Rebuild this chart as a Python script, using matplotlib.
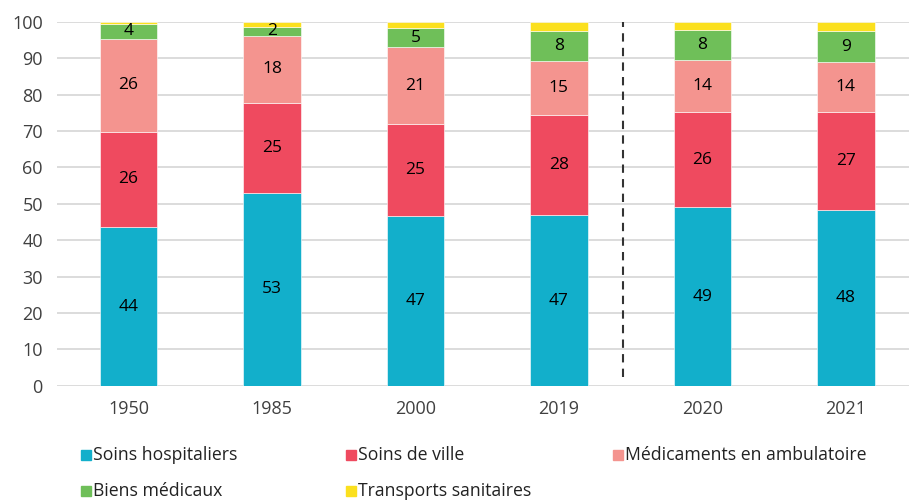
import matplotlib
matplotlib.use("Agg")
import matplotlib.pyplot as plt
from matplotlib.patches import Rectangle
import numpy as np

plt.rcParams['font.family'] = ['Open Sans', 'DejaVu Sans']

# données (parts en %)
annees = ["1950", "1985", "2000", "2019", "2020", "2021"]
series = ["Soins hospitaliers", "Soins de ville", "Médicaments en ambulatoire",
          "Biens médicaux", "Transports sanitaires"]
hospitaliers = [43.5, 52.9, 46.7, 46.8, 49.0, 48.2]
ville = [26.3, 24.7, 25.2, 27.7, 26.2, 27.0]
medicaments = [25.5, 18.6, 21.1, 14.8, 14.2, 13.7]
biens = [4.15, 2.3, 5.2, 8.1, 8.3, 8.5]
transports = [0.55, 1.5, 1.8, 2.6, 2.3, 2.6]
etiquettes = [
    [44, 53, 47, 47, 49, 48],
    [26, 25, 25, 28, 26, 27],
    [26, 18, 21, 15, 14, 14],
    [4, 2, 5, 8, 8, 9],
    None,
]
couleurs = ["#12AFCB", "#EF4A5F", "#F4948F", "#6FBF59", "#FBE01E"]

valeurs = [hospitaliers, ville, medicaments, biens, transports]

fig = plt.figure(figsize=(9.09, 5), dpi=100)
ax = fig.add_axes([0.0624, 0.2286, 1 - 0.0624, 0.728])

x = np.arange(len(annees))
bas = np.zeros(len(annees))
for vals, coul, lab in zip(valeurs, couleurs, etiquettes):
    vals = np.array(vals)
    ax.bar(x, vals, width=0.4, bottom=bas, color=coul, edgecolor="white",
           linewidth=0.4, zorder=3)
    if lab is not None:
        for xi, b, v, t in zip(x, bas, vals, lab):
            ax.text(xi, b + v / 2, str(t), ha="center", va="center",
                    fontsize=12.5, color="black", zorder=4)
    bas += vals

# séparation 2019 / 2020
ax.vlines(3.45, 2.5, 100, colors="#333333", linewidth=1.5,
          linestyles=(0, (4, 3)), zorder=4)

ax.set_xlim(-0.5, 5.44)
ax.set_ylim(0, 100)
ax.set_yticks(range(0, 101, 10))
ax.set_xticks(x)
ax.set_xticklabels(annees)
ax.grid(axis="y", color="#d9d9d9", linewidth=1.3, zorder=0)
ax.tick_params(axis="both", length=0, labelsize=13, colors="#404040")
ax.tick_params(axis="y", pad=10)
ax.tick_params(axis="x", pad=10)
for s in ax.spines.values():
    s.set_visible(False)

# légende
col_x = [81, 346, 613]
row_y = [454.5, 491]
W, H = 909.0, 500.0
for i, (nom, coul) in enumerate(zip(series, couleurs)):
    px = col_x[i % 3]
    py = row_y[i // 3]
    fig.add_artist(Rectangle((px / W, 1 - (py + 5) / H), 10 / W, 10 / H,
                             transform=fig.transFigure, color=coul))
    fig.text((px + 12) / W, 1 - py / H, nom, ha="left", va="center",
             fontsize=12.7, color="#222222")

fig.savefig("out.png", dpi=100)
